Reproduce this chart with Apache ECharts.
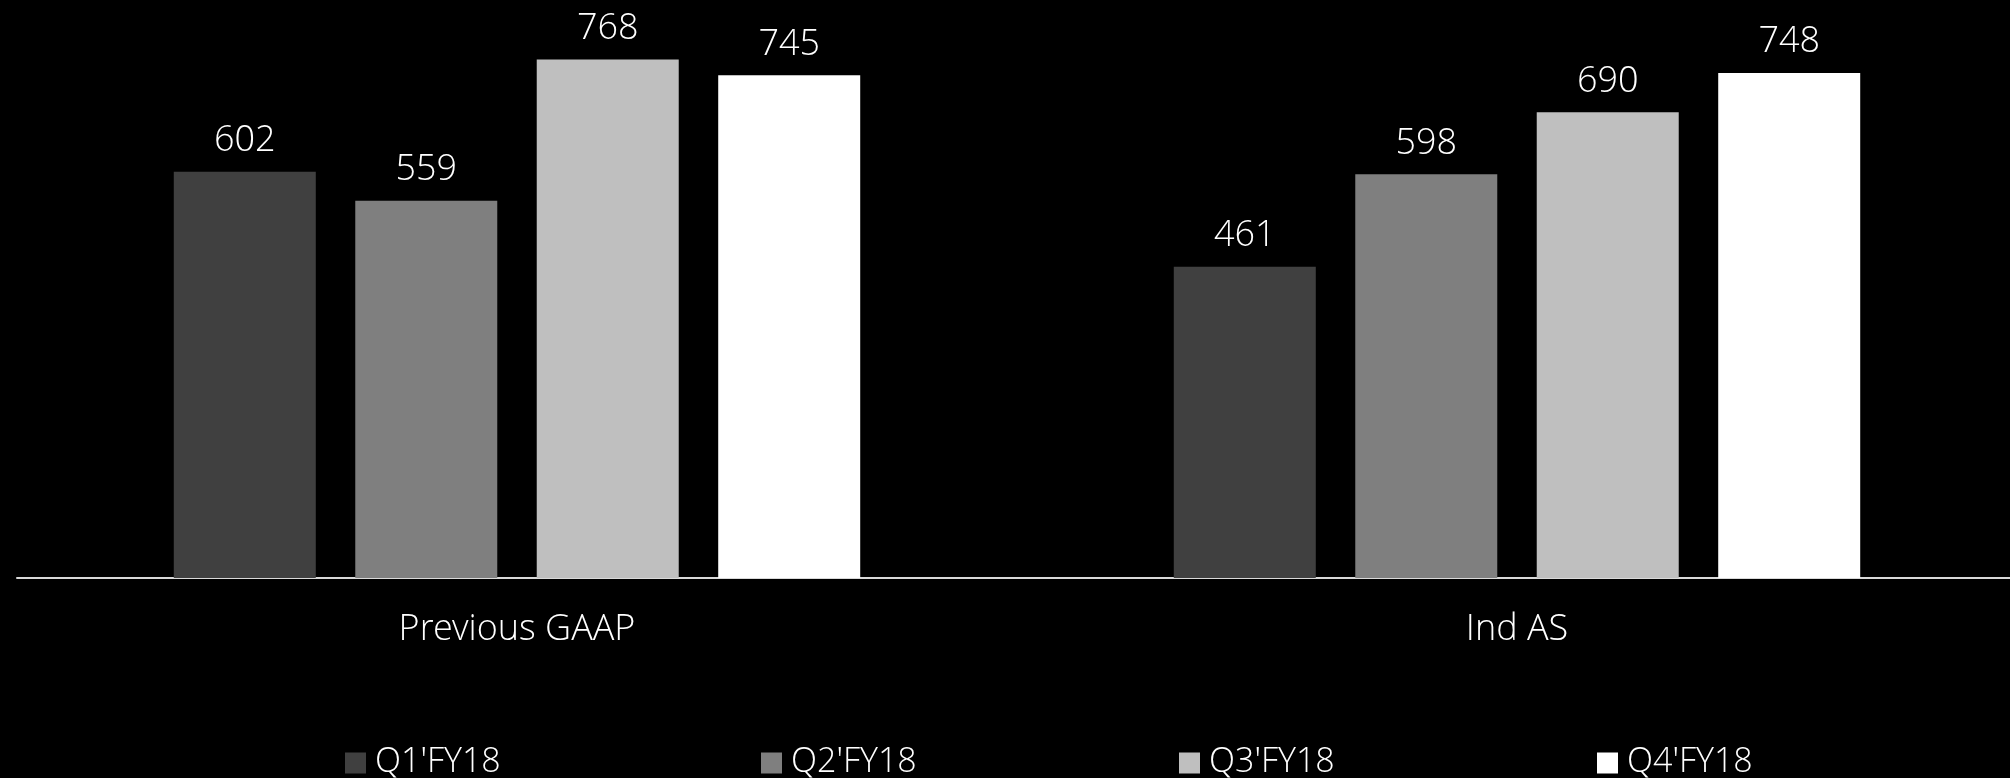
<!DOCTYPE html>
<html>
<head>
<meta charset="utf-8">
<title>Quarterly comparison</title>
<script src="https://cdn.jsdelivr.net/npm/echarts@6/dist/echarts.min.js"></script>
<style>
  html, body { margin: 0; padding: 0; background: #000; }
  #chart { width: 2010px; height: 778px; }
</style>
</head>
<body>
<div id="chart"></div>
<script>
// Reporting bases on the category axis
const categories = ['Previous GAAP', 'Ind AS'];

// Quarter names (one series each)
const quarters = ["Q1'FY18", "Q2'FY18", "Q3'FY18", "Q4'FY18"];

// Values per quarter, ordered as in categories
const q1Values = [602, 461];
const q2Values = [559, 598];
const q3Values = [768, 690];
const q4Values = [745, 748];

const seriesValues = [q1Values, q2Values, q3Values, q4Values];
const seriesColors = ['#404040', '#7f7f7f', '#bfbfbf', '#ffffff'];
const legendLefts = [345, 761, 1179, 1597];

const FONT = "'Open Sans Light', 'Open Sans', 'Lato', sans-serif";

const chart = echarts.init(document.getElementById('chart'));

const series = quarters.map((name, i) => ({
  name: name,
  type: 'bar',
  data: seriesValues[i],
  barWidth: 142,
  barGap: '27.8%',
  itemStyle: { color: seriesColors[i] },
  label: {
    show: true,
    position: 'top',
    distance: 12,
    color: '#ffffff',
    fontFamily: FONT,
    fontWeight: 300,
    fontSize: 36
  }
}));

// One legend component per quarter so each entry sits at its own spot
const legends = quarters.map((name, i) => ({
  data: [name],
  left: legendLefts[i],
  top: 746,
  padding: 0,
  itemWidth: 21,
  itemHeight: 21,
  itemGap: 0,
  icon: 'rect',
  selectedMode: false,
  textStyle: {
    color: '#ffffff',
    fontFamily: FONT,
    fontWeight: 300,
    fontSize: 34,
    padding: [0, 0, 0, 4]
  }
}));

chart.setOption({
  backgroundColor: '#000000',
  animation: false,
  grid: {
    left: 17,
    width: 2000,
    top: 38,
    bottom: 200,
    containLabel: false,
    outerBoundsMode: 'none'
  },
  legend: legends,
  xAxis: {
    type: 'category',
    data: categories,
    axisLine: { show: true, lineStyle: { color: '#d9d9d9', width: 2 } },
    axisTick: { show: false },
    axisLabel: {
      color: '#ffffff',
      fontFamily: FONT,
      fontWeight: 300,
      fontSize: 36,
      margin: 35
    }
  },
  yAxis: {
    type: 'value',
    min: 0,
    max: 800,
    show: false,
    splitLine: { show: false }
  },
  series: series
});
</script>
</body>
</html>
